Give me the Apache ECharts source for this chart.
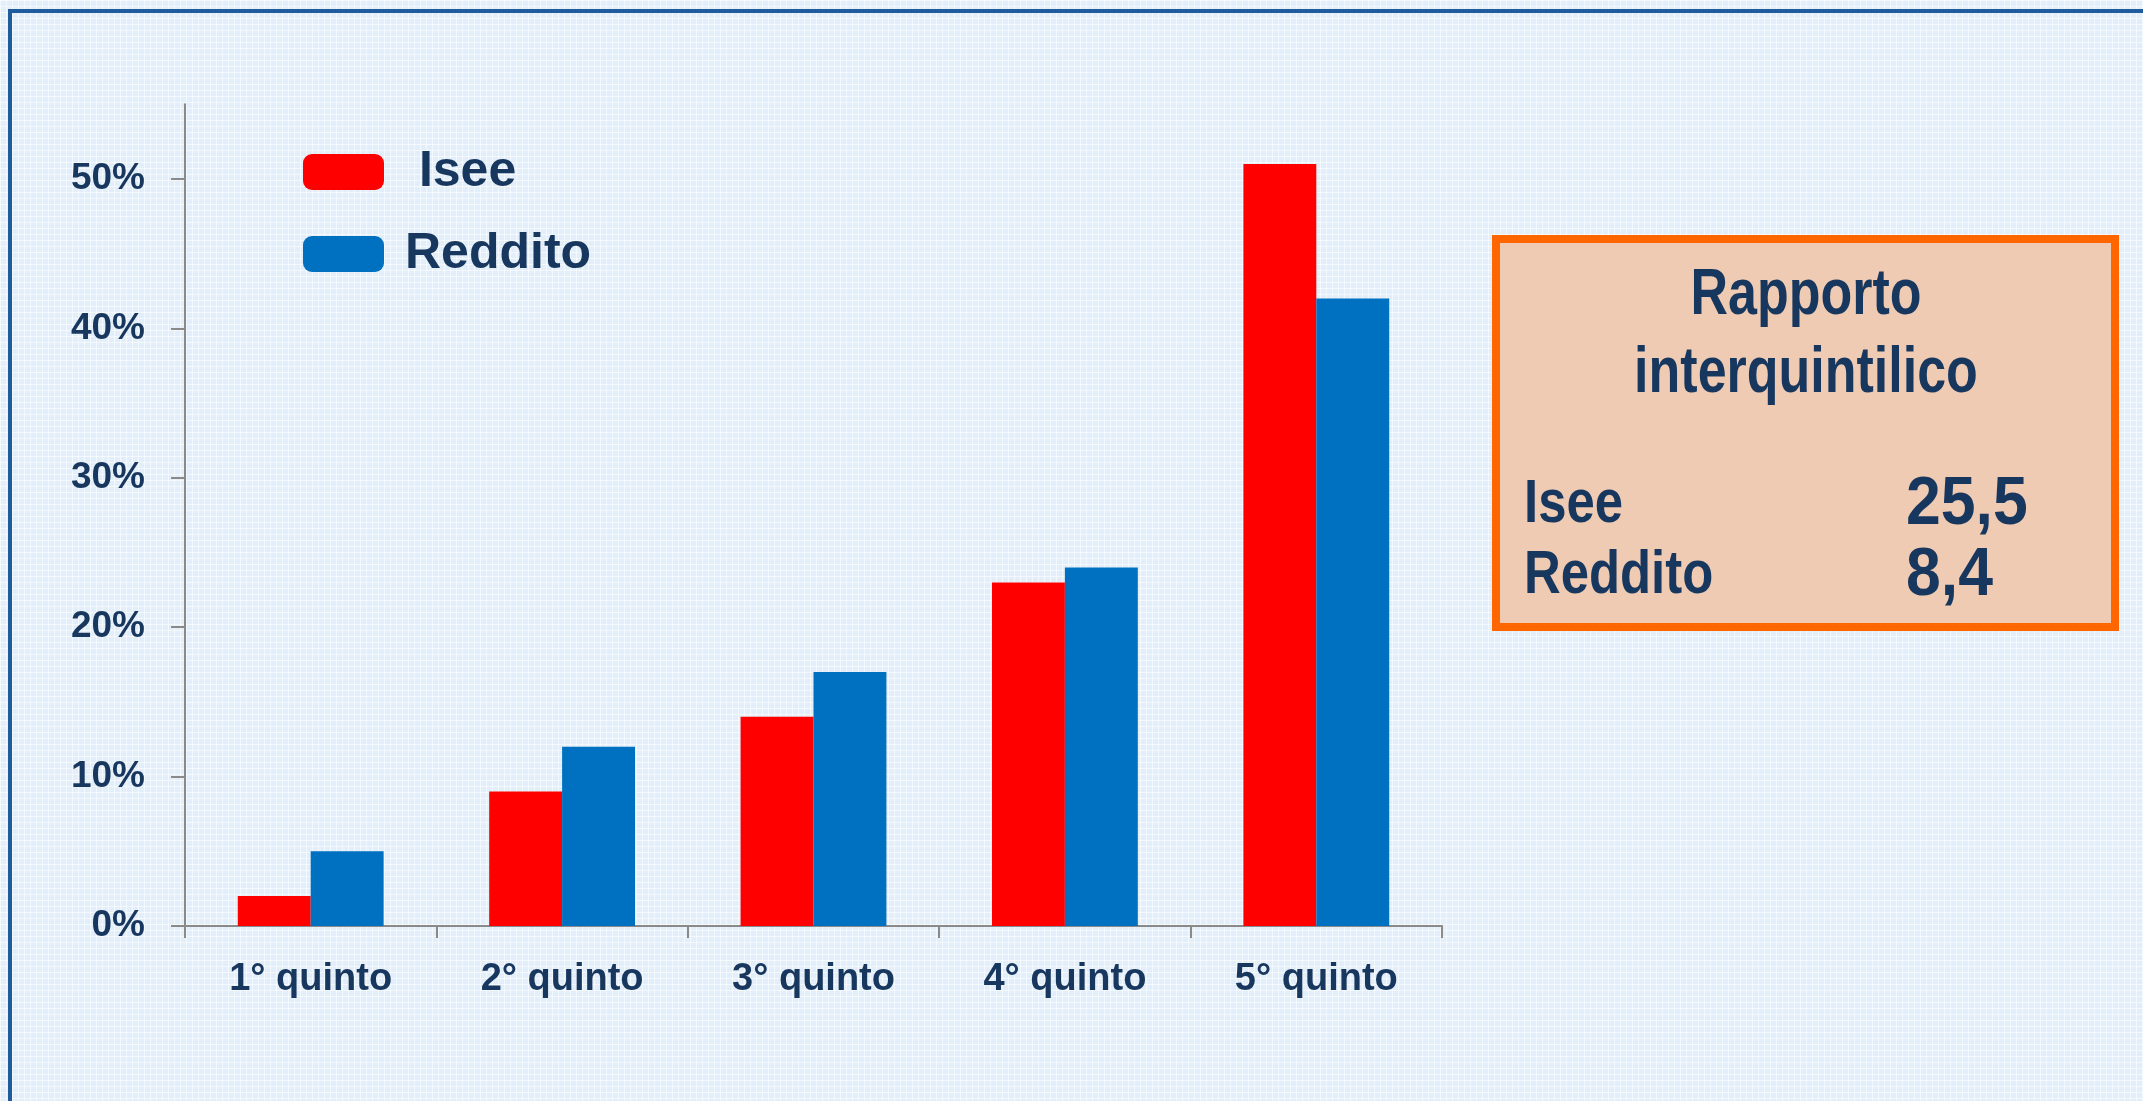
<!DOCTYPE html>
<html>
<head>
<meta charset="utf-8">
<script src="https://cdn.jsdelivr.net/npm/echarts@6/dist/echarts.min.js"></script>
<style>
  html, body { margin: 0; padding: 0; width: 2143px; height: 1101px; overflow: hidden; }
  body {
    background-color: #e2eefa;
    background-image:
      linear-gradient(rgba(255,255,255,0.6) 1px, transparent 1px),
      linear-gradient(90deg, rgba(255,255,255,0.6) 1px, transparent 1px);
    background-size: 6px 6px;
  }
  #frame { position: absolute; left: 8px; top: 9px; right: -10px; bottom: -10px;
           border-left: 4px solid #1f5c9d; border-top: 4px solid #1f5c9d; }
  #chart { position: absolute; left: 0; top: 0; width: 2143px; height: 1101px; }
</style>
</head>
<body>
<div id="frame"></div>
<div id="chart"></div>
<script>
// ---- data ----
const categories = ['1° quinto', '2° quinto', '3° quinto', '4° quinto', '5° quinto'];
const seriesNames = ['Isee', 'Reddito'];
const iseeValues = [2, 9, 14, 23, 51];
const redditoValues = [5, 12, 17, 24, 42];
const yTicks = [0, 10, 20, 30, 40, 50];
const boxTitle = ['Rapporto', 'interquintilico'];
const boxRowLabels = ['Isee', 'Reddito'];
const boxRowValues = ['25,5', '8,4'];

const TEXT = '#17375E';
const FONT = "'Liberation Sans', Arial, sans-serif";

const chart = echarts.init(document.getElementById('chart'), null, { renderer: 'canvas' });

function boxText(str, x, y, align, size, sx) {
  return {
    type: 'text', x: x, y: y, scaleX: sx, scaleY: 1,
    style: { text: str, x: 0, y: 0, fill: TEXT, align: align, verticalAlign: 'middle',
             font: 'bold ' + size + 'px ' + FONT }
  };
}

const option = {
  backgroundColor: 'transparent',
  animation: false,
  textStyle: { fontFamily: FONT },
  legend: {
    orient: 'vertical', left: 303, top: 147, padding: 0,
    itemWidth: 81, itemHeight: 36, itemGap: 32,
    icon: 'roundRect',
    data: seriesNames,
    formatter: function (n) { return n === 'Isee' ? ' ' + n : n; },
    textStyle: { color: TEXT, fontSize: 50, fontWeight: 'bold', fontFamily: FONT, padding: [0, 0, 0, 16] }
  },
  grid: { left: 185, right: 701, top: 104.3, bottom: 175, containLabel: false },
  xAxis: {
    type: 'category', data: categories,
    axisLine: { lineStyle: { color: '#8a8a8a', width: 2 } },
    axisTick: { show: true, length: 12, alignWithLabel: false, lineStyle: { color: '#8a8a8a', width: 2 } },
    axisLabel: { color: TEXT, fontSize: 38, fontWeight: 'bold', margin: 35, fontFamily: FONT },
    splitLine: { show: false }
  },
  yAxis: {
    type: 'value', min: 0, max: 55, interval: 10,
    axisLine: { show: true, lineStyle: { color: '#8a8a8a', width: 2 } },
    axisTick: { show: true, length: 14, customValues: yTicks, lineStyle: { color: '#8a8a8a', width: 2 } },
    axisLabel: { color: TEXT, fontSize: 37, fontWeight: 'bold', margin: 40, fontFamily: FONT,
                 customValues: yTicks, formatter: '{value}%' },
    splitLine: { show: false }
  },
  series: [
    { name: seriesNames[0], type: 'bar', data: iseeValues, barGap: '0%', barCategoryGap: '42%',
      itemStyle: { color: '#FF0000' } },
    { name: seriesNames[1], type: 'bar', data: redditoValues, barGap: '0%', barCategoryGap: '42%',
      itemStyle: { color: '#0070C0' } }
  ],
  graphic: [
    { type: 'rect', shape: { x: 1496, y: 239, width: 619, height: 388 },
      style: { fill: '#f0cbb4', stroke: '#FF6600', lineWidth: 8 } },
    boxText(boxTitle[0], 1806, 296, 'center', 65, 0.8),
    boxText(boxTitle[1], 1806, 374, 'center', 65, 0.8),
    boxText(boxRowLabels[0], 1524, 505, 'left', 62, 0.82),
    boxText(boxRowLabels[1], 1524, 576, 'left', 62, 0.82),
    boxText(boxRowValues[0], 1906, 505, 'left', 68, 0.92),
    boxText(boxRowValues[1], 1906, 576, 'left', 68, 0.92)
  ]
};
chart.setOption(option);
</script>
</body>
</html>
